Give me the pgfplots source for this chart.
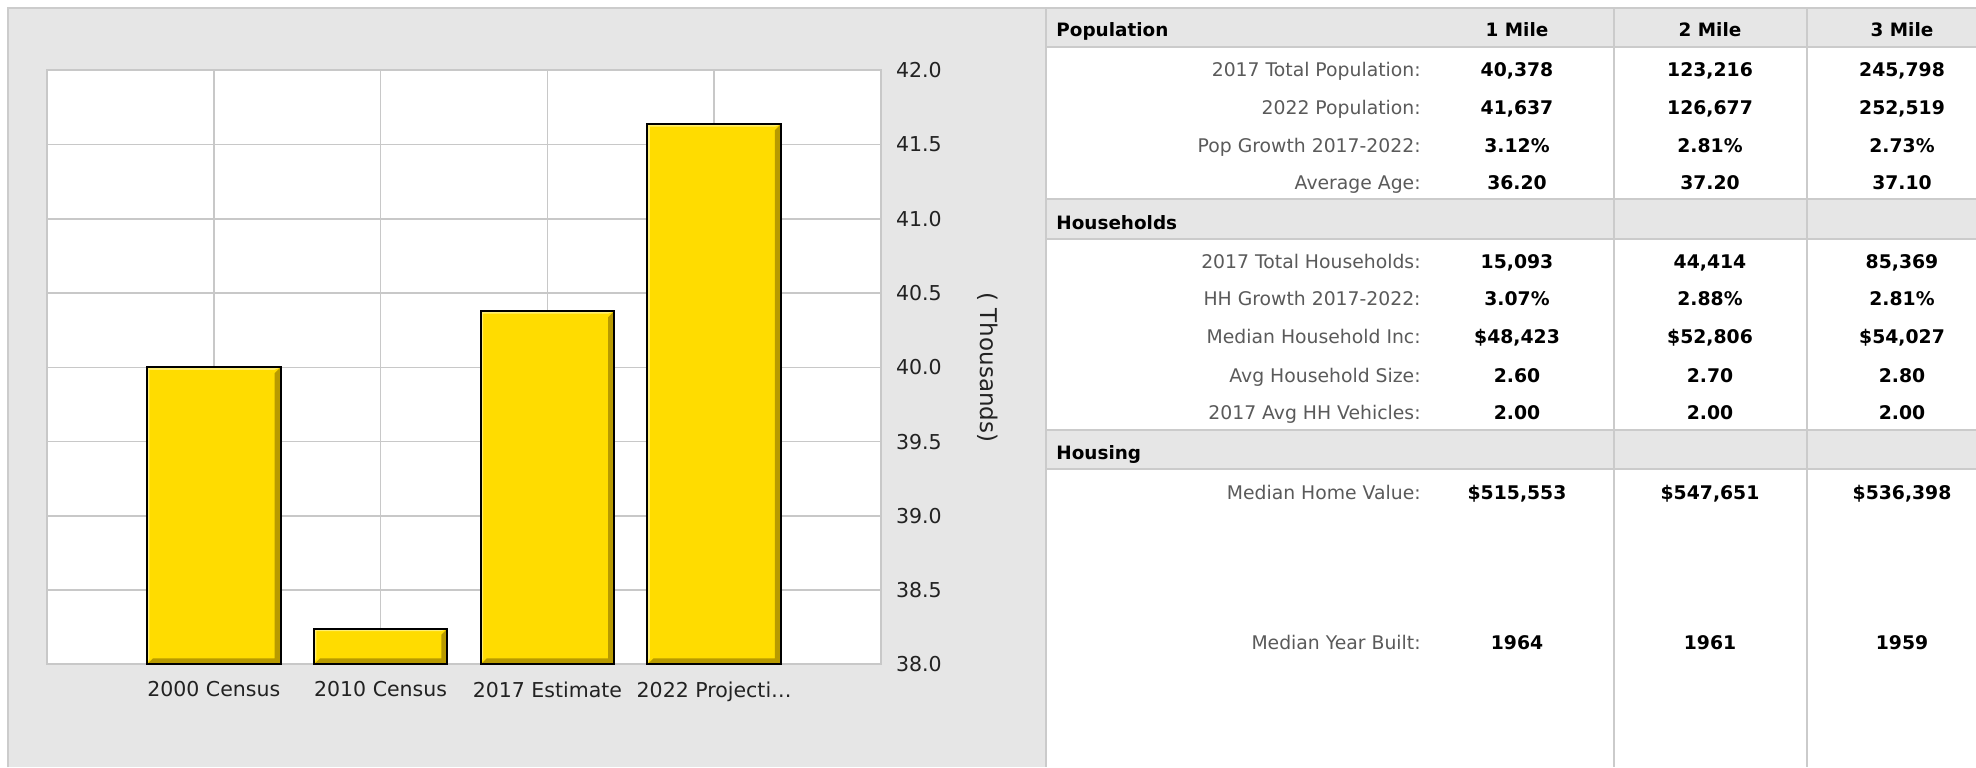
\documentclass[border=0pt]{standalone}
\usepackage{pgfplots}
\pgfplotsset{compat=1.18}
\usepackage{fontspec}
\setmainfont{DejaVu Sans}
\definecolor{panelgray}{HTML}{E6E6E6}
\definecolor{panelborder}{HTML}{CCCCCC}
\definecolor{gridgray}{HTML}{C8C8C8}
\definecolor{baryellow}{HTML}{FFDC00}
\definecolor{bevdark}{HTML}{B89A00}
\definecolor{bevlight}{HTML}{FFEE70}
\definecolor{labelgray}{HTML}{5A5A5A}
\definecolor{tickcol}{HTML}{222222}
\definecolor{tblline}{HTML}{CBCBCB}
\tikzset{bevel/.style={path picture={
  \fill[bevdark, path picture={}, draw=none] ([xshift=-3pt,yshift=-3pt]path picture bounding box.north east) -- (path picture bounding box.north east) -- (path picture bounding box.south east) -- (path picture bounding box.south west) -- ([xshift=3pt,yshift=3pt]path picture bounding box.south west) -- ([xshift=-3pt,yshift=3pt]path picture bounding box.south east) -- cycle;
  \fill[bevlight, path picture={}, draw=none] (path picture bounding box.north west) -- (path picture bounding box.north east) -- ([xshift=-3pt,yshift=-1.2pt]path picture bounding box.north east) -- ([xshift=1.2pt,yshift=-1.2pt]path picture bounding box.north west) -- ([xshift=1.2pt,yshift=3pt]path picture bounding box.south west) -- (path picture bounding box.south west) -- cycle;
}}}
\newcommand{\tfont}{\fontsize{9.4}{11}\selectfont}
\newcommand{\trow}[5]{%
  \node[anchor=base east, font=\tfont, text=labelgray, inner sep=0pt] at (1421,#1) {#2};
  \node[anchor=base, font=\tfont\bfseries, inner sep=0pt] at (1517,#1) {#3};
  \node[anchor=base, font=\tfont\bfseries, inner sep=0pt] at (1710,#1) {#4};
  \node[anchor=base, font=\tfont\bfseries, inner sep=0pt] at (1902,#1) {#5};
}
\newcommand{\hrow}[2]{%
  \fill[panelgray] (1045,#1) rectangle (1976,#2);
  \draw[tblline, line width=1pt] (1045,#1) -- (1976,#1);
  \draw[tblline, line width=1.4pt] (1045,#2) -- (1976,#2);
}
\begin{document}
\begin{tikzpicture}
\useasboundingbox (0,0) rectangle (988pt,383.5pt);
\fill[white] (0,0) rectangle (988pt,383.5pt);
\begin{scope}[x=0.5pt,y=-0.5pt,shift={(0pt,383.5pt)}]
  \fill[panelgray] (8,8) rectangle (1045,767);
  \draw[panelborder, line width=1pt] (8,767) -- (8,8) -- (1045,8);
\end{scope}
\begin{axis}[
  at={(23.5pt,51.3pt)}, anchor=south west,
  scale only axis, width=417pt, height=297pt,
  xmin=-1, xmax=4, ymin=38, ymax=42,
  y coord trafo/.code={\pgfmathparse{#1-38}},
  y coord inv trafo/.code={\pgfmathparse{#1+38}},
  xtick={0,1,2,3},
  xticklabels={2000 Census,2010 Census,2017 Estimate,2022 Projecti…},
  ytick={38,38.5,39,39.5,40,40.5,41,41.5,42},
  yticklabels={38.0,38.5,39.0,39.5,40.0,40.5,41.0,41.5,42.0},
  yticklabel pos=right,
  grid=major,
  major grid style={draw=gridgray, line width=0.75pt},
  axis line style={draw=gridgray, line width=1pt},
  major tick length=0pt, tick style={draw=none},
  axis background/.style={fill=white},
  tick label style={font=\fontsize{10.25}{12}\selectfont, text=tickcol},
  xticklabel style={yshift=-5pt},
  yticklabel style={xshift=4pt},
  ylabel={(\ Thousands)},
  every axis y label/.style={at={(axis description cs:1.128,0.5)}, rotate=-90, anchor=center, font=\fontsize{11.5}{13}\selectfont, text=tickcol},
]
\addplot[ybar, bar width=0.8, bar shift=0pt, fill=baryellow, draw=black, line width=1pt, bevel] coordinates {(0,40.0)};
\addplot[ybar, bar width=0.8, bar shift=0pt, fill=baryellow, draw=black, line width=1pt, bevel] coordinates {(1,38.24)};
\addplot[ybar, bar width=0.8, bar shift=0pt, fill=baryellow, draw=black, line width=1pt, bevel] coordinates {(2,40.378)};
\addplot[ybar, bar width=0.8, bar shift=0pt, fill=baryellow, draw=black, line width=1pt, bevel] coordinates {(3,41.637)};
\end{axis}
\begin{scope}[x=0.5pt,y=-0.5pt,shift={(0pt,383.5pt)}]
  \fill[white] (1046,8) rectangle (1976,767);
  \hrow{8}{47}
  \hrow{199}{239}
  \hrow{430}{469}
  \draw[tblline, line width=1pt] (1046,8) -- (1046,767);
  \draw[tblline, line width=1pt] (1614,8) -- (1614,767);
  \draw[tblline, line width=1pt] (1807,8) -- (1807,767);
  \node[anchor=base west, font=\fontsize{9.2}{11}\selectfont\bfseries, inner sep=0pt] at (1056,37) {Population};
  \node[anchor=base, font=\fontsize{9.2}{11}\selectfont\bfseries, inner sep=0pt] at (1517,37) {1 Mile};
  \node[anchor=base, font=\fontsize{9.2}{11}\selectfont\bfseries, inner sep=0pt] at (1710,37) {2 Mile};
  \node[anchor=base, font=\fontsize{9.2}{11}\selectfont\bfseries, inner sep=0pt] at (1902,37) {3 Mile};
  \node[anchor=base west, font=\fontsize{9.2}{11}\selectfont\bfseries, inner sep=0pt] at (1056,229.5) {Households};
  \node[anchor=base west, font=\fontsize{9.2}{11}\selectfont\bfseries, inner sep=0pt] at (1056,459) {Housing};
  \trow{77}{2017 Total Population:}{40,378}{123,216}{245,798}
  \trow{115}{2022 Population:}{41,637}{126,677}{252,519}
  \trow{153}{Pop Growth 2017-2022:}{3.12\%}{2.81\%}{2.73\%}
  \trow{190}{Average Age:}{36.20}{37.20}{37.10}
  \trow{269}{2017 Total Households:}{15,093}{44,414}{85,369}
  \trow{306}{HH Growth 2017-2022:}{3.07\%}{2.88\%}{2.81\%}
  \trow{344}{Median Household Inc:}{\$48,423}{\$52,806}{\$54,027}
  \trow{382}{Avg Household Size:}{2.60}{2.70}{2.80}
  \trow{419}{2017 Avg HH Vehicles:}{2.00}{2.00}{2.00}
  \trow{499}{Median Home Value:}{\$515,553}{\$547,651}{\$536,398}
  \trow{649}{Median Year Built:}{1964}{1961}{1959}
\end{scope}
\end{tikzpicture}
\end{document}
